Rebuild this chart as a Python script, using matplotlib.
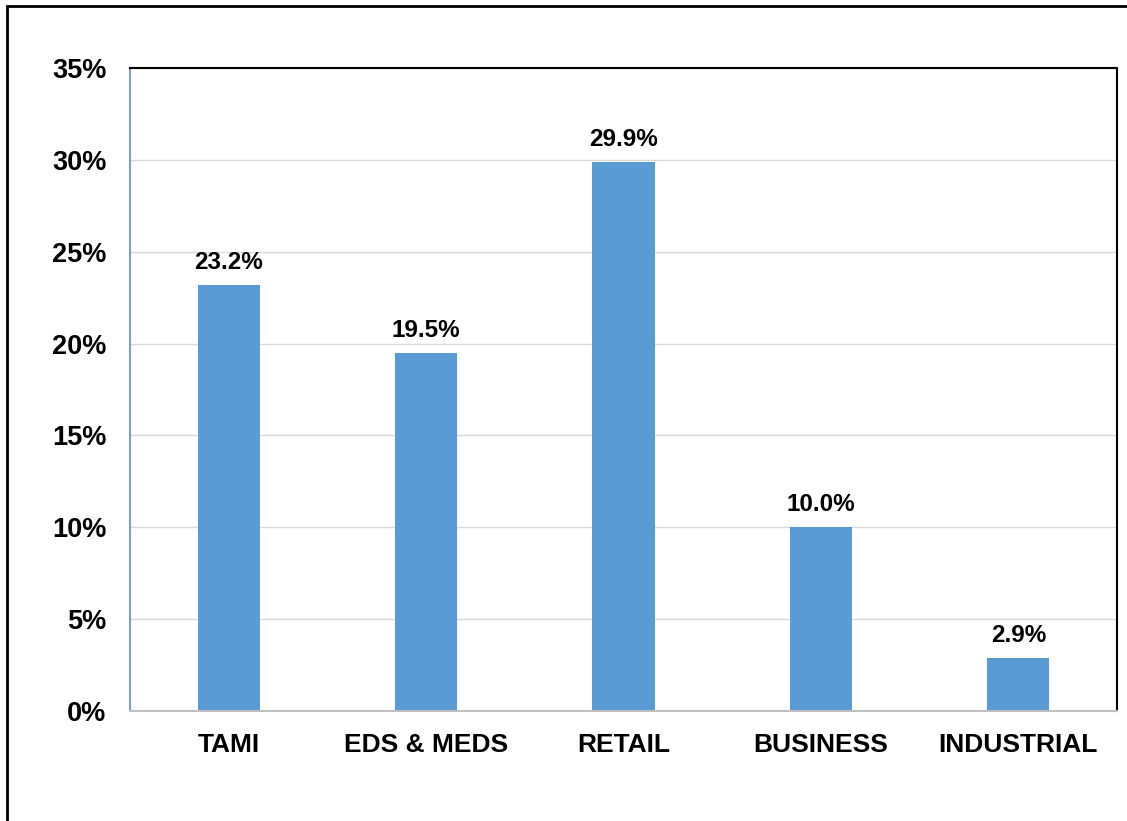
import matplotlib.pyplot as plt
from matplotlib.patches import Rectangle
from matplotlib.ticker import FuncFormatter

categories = ["TAMI", "EDS & MEDS", "RETAIL", "BUSINESS", "INDUSTRIAL"]
shares = [23.2, 19.5, 29.9, 10.0, 2.9]
y_ticks = [0, 5, 10, 15, 20, 25, 30, 35]

plt.rcParams['font.family'] = ['Liberation Sans', 'DejaVu Sans']
plt.rcParams['font.weight'] = 'bold'

fig = plt.figure(figsize=(11.27, 8.21), dpi=100)
W, H = 1127, 821
ax = fig.add_axes([130 / W, 1 - 711 / H, (1117 - 130) / W, (711 - 68) / H])

x = range(len(categories))
ax.bar(x, shares, width=0.315, color="#5B9BD5", zorder=2)
for xi, v in zip(x, shares):
    ax.annotate(f"{v:.1f}%", (xi, v), xytext=(0, 8), textcoords="offset points",
                ha="center", va="bottom", fontsize=17.5, fontweight="bold")

ax.set_xlim(-0.5, len(categories) - 0.5)
ax.set_ylim(0, 35)
ax.set_yticks(y_ticks)
ax.yaxis.set_major_formatter(FuncFormatter(lambda v, p: f"{v:.0f}%"))
ax.set_xticks(list(x))
ax.set_xticklabels(categories)
ax.tick_params(axis="both", length=0)
ax.tick_params(axis="y", pad=17, labelsize=19.5)
ax.tick_params(axis="x", pad=16, labelsize=19)
for lab in ax.get_xticklabels() + ax.get_yticklabels():
    lab.set_fontweight("bold")

ax.grid(axis="y", color="#D9D9D9", linewidth=1, zorder=0)
ax.spines["top"].set_color("black")
ax.spines["right"].set_color("black")
ax.spines["left"].set_color("#7F9FBF")
ax.spines["bottom"].set_color("#BFBFBF")
for s in ax.spines.values():
    s.set_linewidth(1.5)

# outer frame, cut off at right and bottom
fig.patches.append(Rectangle((7 / W, -0.1), 1.2, 1 - 6 / H + 0.1, transform=fig.transFigure,
                             fill=False, edgecolor="black", linewidth=2))

fig.savefig("out.png", dpi=100)
